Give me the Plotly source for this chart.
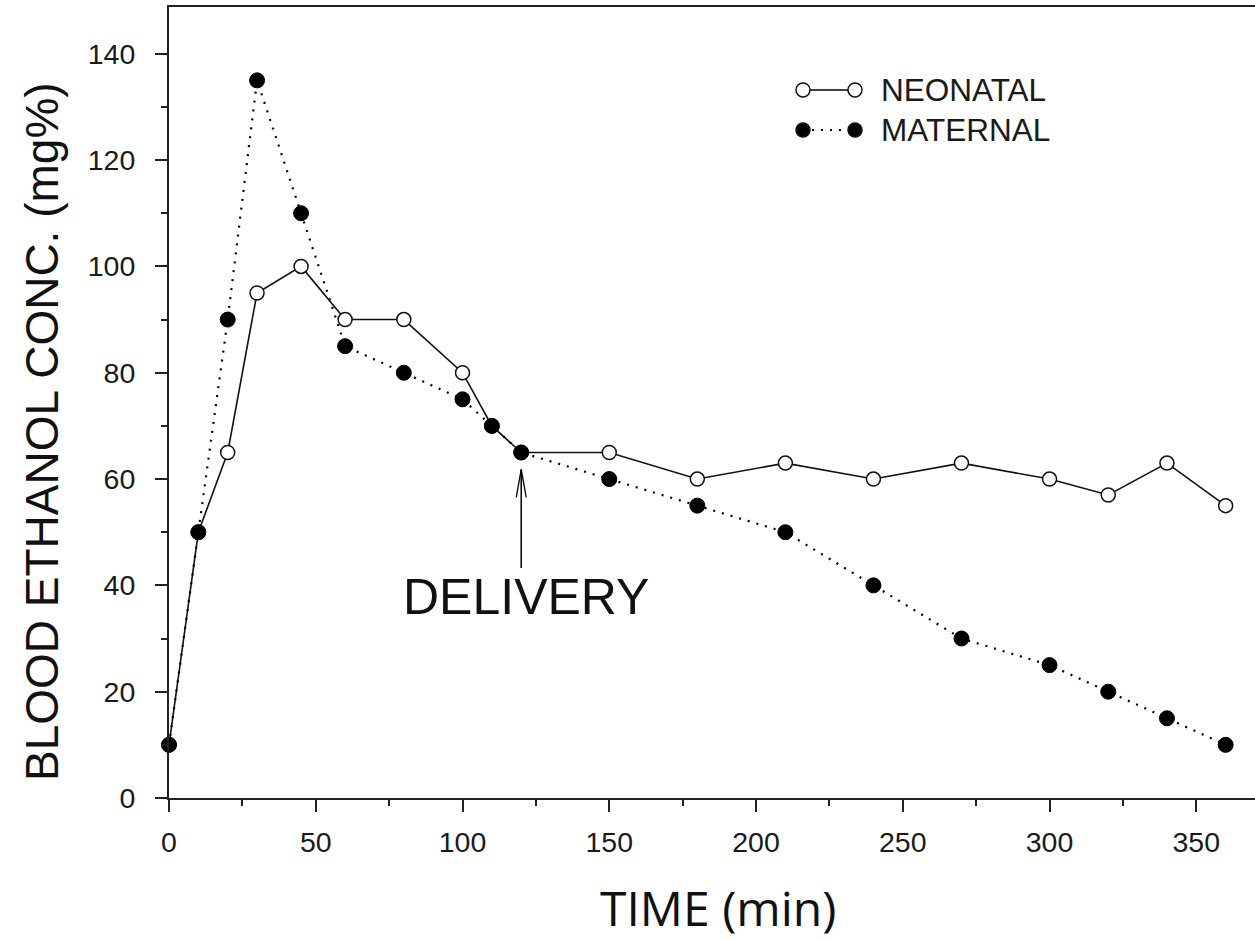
import plotly.graph_objects as go

time_min = [0, 10, 20, 30, 45, 60, 80, 100, 110, 120, 150, 180, 210, 240, 270, 300, 320, 340, 360]
neonatal = [10, 50, 65, 95, 100, 90, 90, 80, 70, 65, 65, 60, 63, 60, 63, 60, 57, 63, 55]
maternal = [10, 50, 90, 135, 110, 85, 80, 75, 70, 65, 60, 55, 50, 40, 30, 25, 20, 15, 10]

x_ticks = [0, 50, 100, 150, 200, 250, 300, 350]
y_ticks = [0, 20, 40, 60, 80, 100, 120, 140]
delivery_time = 120

TICK_FONT = dict(family="Liberation Sans, Arial, sans-serif", size=28.5, color="#1a1a1a")

fig = go.Figure()

fig.add_trace(go.Scatter(
    x=time_min, y=neonatal, mode="lines+markers", name="NEONATAL",
    line=dict(color="#111", width=1.6),
    marker=dict(symbol="circle", size=14, color="white", line=dict(color="#111", width=1.5)),
    cliponaxis=False, showlegend=False,
))
fig.add_trace(go.Scatter(
    x=time_min, y=maternal, mode="lines+markers", name="MATERNAL",
    line=dict(color="black", width=2.2, dash="2px,7px"),
    marker=dict(symbol="circle", size=15, color="black", line=dict(color="black", width=1)),
    cliponaxis=False, showlegend=False,
))

# Custom legend (paper-pixel decoration)
W, H = 1255, 940
L, R, T, B = 169, 0, 7, 142
pw, ph = W - L - R, H - T - B

def px(xp):
    return (xp - L) / pw

def py(yp):
    return (H - B - yp) / ph

legend_rows = [
    ("NEONATAL", 90, "white", "solid"),
    ("MATERNAL", 130, "black", "dot"),
]
shapes = []
annotations = []
for label, yrow, fill, dash in legend_rows:
    shapes.append(dict(type="line", xref="paper", yref="paper",
                       x0=px(803), x1=px(855), y0=py(yrow), y1=py(yrow),
                       line=dict(color="black", width=1.6 if dash == "solid" else 2.2,
                                 dash="solid" if dash == "solid" else "2px,7px")))
    for cx in (803, 855):
        shapes.append(dict(type="circle", xref="paper", yref="paper",
                           x0=px(cx - 7), x1=px(cx + 7), y0=py(yrow - 7), y1=py(yrow + 7),
                           fillcolor=fill, line=dict(color="#111", width=1.5)))
    annotations.append(dict(xref="paper", yref="paper", x=px(879), y=py(yrow),
                            xanchor="left", yanchor="middle", text=label, showarrow=False,
                            font=dict(family="Liberation Sans, Arial, sans-serif", size=31.5, color="#1a1a1a")))

# Delivery arrow: shaft + open chevron head
annotations.append(dict(x=delivery_time, y=61.8, ax=delivery_time, ay=43, xref="x", yref="y",
                        axref="x", ayref="y", text="", showarrow=True,
                        arrowhead=0, arrowwidth=1.5, arrowcolor="black"))
shapes.append(dict(type="path", xref="x", yref="y", xsizemode="pixel", ysizemode="pixel",
                   xanchor=delivery_time, yanchor=61.8,
                   path="M -5,-28 L 0,0 L 5,-28", line=dict(color="black", width=1.3)))
annotations.append(dict(x=121.7, y=37.8, xref="x", yref="y", text="DELIVERY", showarrow=False,
                        xanchor="center", yanchor="middle",
                        font=dict(family="Liberation Sans, Arial, sans-serif", size=50, color="#111")))

# Axis titles as annotations (positioned like the reference)
annotations.append(dict(xref="paper", yref="paper", x=px(42), y=py(432), text="BLOOD ETHANOL CONC. (mg%)",
                        textangle=-90, showarrow=False, xanchor="center", yanchor="middle",
                        font=dict(family="Liberation Sans, Arial, sans-serif", size=46, color="#111")))
annotations.append(dict(xref="paper", yref="paper", x=px(718), y=py(907), text="TIME (min)",
                        showarrow=False, xanchor="center", yanchor="middle", borderpad=0,
                        font=dict(family="Open Sans, sans-serif", size=48, color="#111")))

fig.update_layout(
    width=W, height=H,
    margin=dict(l=L, r=R, t=T, b=B, pad=0),
    paper_bgcolor="white", plot_bgcolor="white",
    shapes=shapes, annotations=annotations,
    showlegend=False,
)

fig.update_xaxes(
    range=[0, 370], tickmode="array", tickvals=x_ticks, ticktext=[str(v) for v in x_ticks],
    showgrid=False, zeroline=False, showline=True, linecolor="#222", linewidth=2, mirror=True,
    ticks="outside", ticklen=12, tickwidth=2, tickcolor="#222",
    minor=dict(ticks="outside", dtick=25, tick0=0, ticklen=6, tickwidth=2, tickcolor="#222", showgrid=False),
    tickfont=TICK_FONT, ticklabelstandoff=6,
)
fig.update_yaxes(
    range=[0, 148.8], tickmode="array", tickvals=y_ticks, ticktext=[str(v) for v in y_ticks],
    showgrid=False, zeroline=False, showline=True, linecolor="#222", linewidth=2,
    ticks="outside", ticklen=12, tickwidth=2, tickcolor="#222",
    minor=dict(ticks="outside", dtick=10, tick0=0, ticklen=6, tickwidth=2, tickcolor="#222", showgrid=False),
    tickfont=TICK_FONT, ticklabelstandoff=14,
)

fig.write_html("out.html")
